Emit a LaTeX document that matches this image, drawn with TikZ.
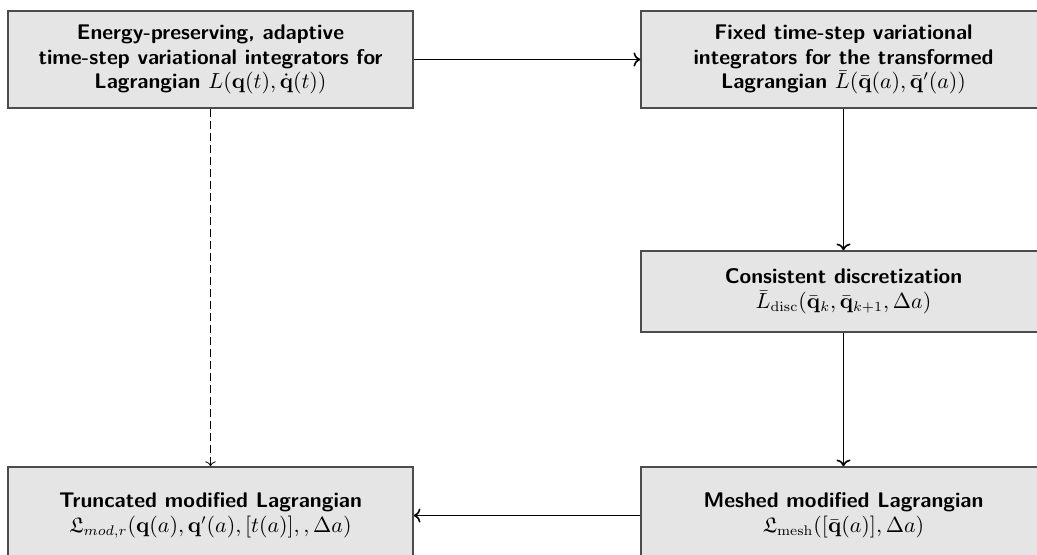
\documentclass[tikz,border=0pt]{standalone}
\usepackage{amsmath,amssymb}
\usetikzlibrary{arrows.meta}
\begin{document}
\begin{tikzpicture}[x=0.5pt,y=-0.5pt,
  box/.style={draw=black!70, line width=0.75pt, fill=gray!20, align=center,
    font=\fontsize{10.6}{12.3}\selectfont\sffamily\bfseries, minimum width=202.5pt, inner sep=0pt},
  conn/.style={->, line width=0.8pt},
  dconn/.style={->, line width=0.4pt, dash pattern=on 4pt off 2pt}]
\useasboundingbox (0,0) rectangle (1037,554);
\node[box, minimum height=48.5pt] (A) at (210.5,59.5)
  {Energy-preserving, adaptive\\time-step variational integrators for\\Lagrangian $L(\mathbf{q}(t),\dot{\mathbf{q}}(t))$};
\node[box, minimum height=48.5pt] (B) at (843.5,59.5)
  {Fixed time-step variational\\integrators for the transformed\\Lagrangian $\bar{L}(\bar{\mathbf{q}}(a),\bar{\mathbf{q}}'(a))$};
\node[box, minimum height=40.5pt] (C) at (843.5,291.5)
  {Consistent discretization\\$\bar{L}_{\mathrm{disc}}(\bar{\mathbf{q}}_k,\bar{\mathbf{q}}_{k+1},\Delta a)$};
\node[box, minimum height=48.5pt] (D) at (843.5,515.5)
  {Meshed modified Lagrangian\\$\mathfrak{L}_{\mathrm{mesh}}([\bar{\mathbf{q}}(a)],\Delta a)$};
\node[box, minimum height=48.5pt] (E) at (210.5,515.5)
  {Truncated modified Lagrangian\\$\mathfrak{L}_{mod,r}(\mathbf{q}(a),\mathbf{q}'(a),[t(a)],,\Delta a)$};
\draw[conn] (A) -- (B);
\draw[conn] (B) -- (C);
\draw[conn] (C) -- (D);
\draw[conn] (D) -- (E);
\draw[dconn] (A) -- (E);
\end{tikzpicture}
\end{document}
